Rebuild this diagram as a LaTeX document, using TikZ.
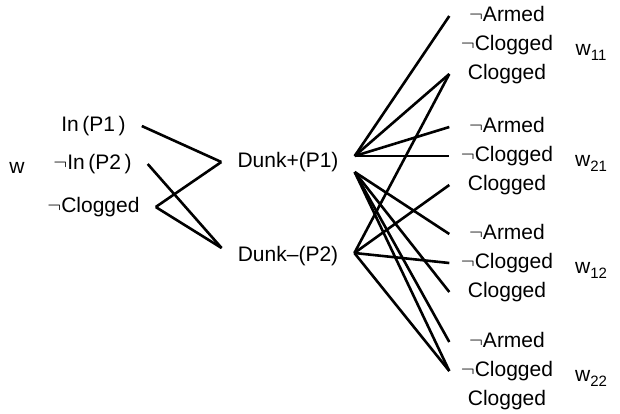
\documentclass[tikz,border=0pt]{standalone}
\usepackage{fontspec}
\setmainfont{Liberation Sans}
\begin{document}
\begin{tikzpicture}[x=1pt,y=-1pt,
  every node/.style={font=\fontsize{21}{25}\selectfont,text height=15pt,text depth=4pt},
  lab/.style={inner xsep=16pt},
  leaf/.style={minimum width=115pt,inner xsep=0pt},
  edge/.style={line width=2.6pt}]
\useasboundingbox (0,0) rectangle (620,413);
% initial state
\node (w) at (17,168) {w};
\node[lab] (ip1) at (93.5,126) {In\,(P1\,)};
\node[lab] (nip2) at (92.5,164) {$\neg$In\,(P2\,)};
\node[lab] (ncl) at (93.5,207) {$\neg$Clogged};
% actions
\node[lab] (dp) at (288,162) {Dunk+(P1)};
\node[lab] (dm) at (288,256) {Dunk--(P2)};
\coordinate (dpup) at ([yshift=6pt]dp.east);
\coordinate (dplo) at ([yshift=-10pt]dp.east);
\coordinate (dmr) at ([yshift=3pt]dm.east);
\coordinate (dml) at ([yshift=8pt]dm.west);
% outcomes
\foreach \n/\y in {11/16, 21/127, 12/234, 22/342} {
  \node[leaf] (arm\n) at (507,\y) {$\neg$Armed};
  \node[leaf] (ncl\n) at (507,\y+29) {$\neg$Clogged};
  \node[leaf] (clg\n) at (507,\y+58) {Clogged};
  \node (w\n) at (591,\y+34) {w\raisebox{-5pt}{\fontsize{15}{15}\selectfont\n}};
}
\draw[edge] (ip1.east) -- (dp.west);
\draw[edge] (ncl.east) -- (dp.west);
\draw[edge] (nip2.east) -- (dml);
\draw[edge] (ncl.east) -- (dml);
\foreach \o in {arm11,clg11,arm21,ncl21}
  \draw[edge] (dpup) -- (\o.west);
\foreach \o in {arm12,clg12,arm22,ncl22}
  \draw[edge] (dplo) -- (\o.west);
\foreach \o in {clg11,clg21,ncl12,ncl22}
  \draw[edge] (dmr) -- (\o.west);
\end{tikzpicture}
\end{document}
